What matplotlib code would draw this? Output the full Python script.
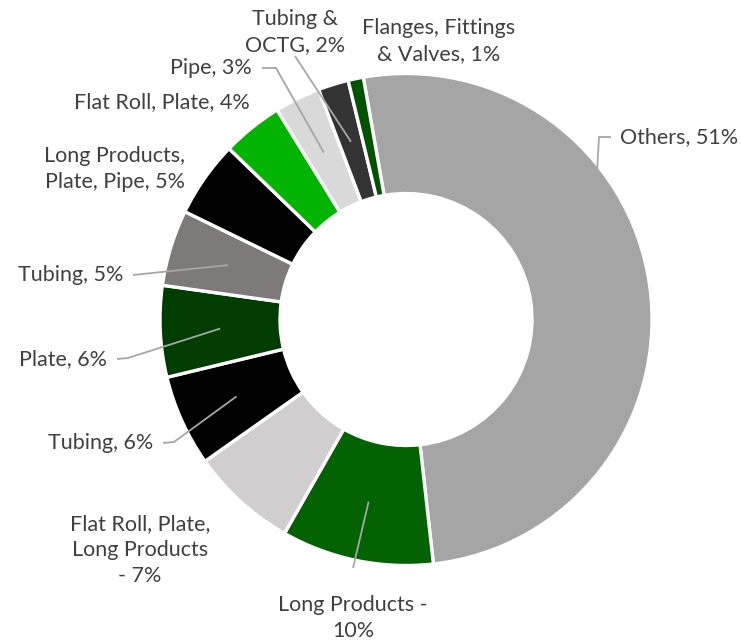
import numpy as np
import matplotlib
matplotlib.use("Agg")
import matplotlib.pyplot as plt

# slice order: clockwise from the top
names = ["Others", "Long Products", "Flat Roll, Plate, Long Products", "Tubing",
         "Plate", "Tubing", "Long Products, Plate, Pipe", "Flat Roll, Plate",
         "Pipe", "Tubing & OCTG", "Flanges, Fittings & Valves"]
shares = [51, 10, 7, 6, 6, 5, 5, 4, 3, 2, 1]
label_text = ["Others, 51%", "Long Products -\n10%", "Flat Roll, Plate,\nLong Products\n- 7%",
              "Tubing, 6%", "Plate, 6%", "Tubing, 5%", "Long Products,\nPlate, Pipe, 5%",
              "Flat Roll, Plate, 4%", "Pipe, 3%", "Tubing &\nOCTG, 2%",
              "Flanges, Fittings\n& Valves, 1%"]
colors = ["#A5A5A5", "#036303", "#D0CECE", "#000000", "#013D01", "#7E7A7A",
          "#000000", "#02B402", "#D9D9D9", "#333333", "#015201"]

W, H = 741, 644
plt.rcParams["font.family"] = ["Lato", "DejaVu Sans"]

fig = plt.figure(figsize=(W / 100, H / 100), dpi=100)
ax = fig.add_axes([0, 0, 1, 1])

cx, cy, R = 406, H - 319.5, 246
ring = 120
wedges, _ = ax.pie(shares, radius=R, center=(cx, cy), startangle=100, counterclock=False,
                   colors=colors, wedgeprops=dict(width=ring, edgecolor="white", linewidth=2.4))
ax.set_xlim(0, W)
ax.set_ylim(0, H)
ax.set_aspect("equal")
ax.axis("off")

def anchor(w):
    t = np.deg2rad((w.theta1 + w.theta2) / 2)
    r = w.r - ring / 2
    return cx + r * np.cos(t), cy + r * np.sin(t)

# label layout (pixel coords from top-left): x, y, ha, leader elbow or None
layout = [
    (620, 137, "left", (599, 137)),
    (353, 618, "center", (353, 568)),
    (140, 550, "center", None),
    (153, 443, "right", (174, 442)),
    (107, 359, "right", (128, 358)),
    (123, 275, "right", (133, 275)),
    (115, 169, "center", None),
    (250, 102, "right", None),
    (252, 68, "right", (276, 68)),
    (295, 32, "center", (295, 56)),
    (439, 41, "center", None),
]

tcol = "#404040"
lcol = "#A6A6A6"
for w, txt, (x, y, ha, elbow) in zip(wedges, label_text, layout):
    ax.text(x, H - y, txt, ha=ha, va="center", fontsize=15.5, color=tcol,
            linespacing=1.35)
    if elbow is None:
        continue
    ex, ey = elbow[0], H - elbow[1]
    axp, ayp = anchor(w)
    pts_x, pts_y = [ex, axp], [ey, ayp]
    if ha == "right":
        pts_x = [x + 10, ex, axp]
        pts_y = [H - y, ey, ayp]
    elif ha == "left":
        pts_x = [x - 9, ex, axp]
        pts_y = [H - y, ey, ayp]
    ax.plot(pts_x, pts_y, color=lcol, lw=1.3, solid_capstyle="butt")

fig.savefig("out.png", dpi=100, facecolor="white")
